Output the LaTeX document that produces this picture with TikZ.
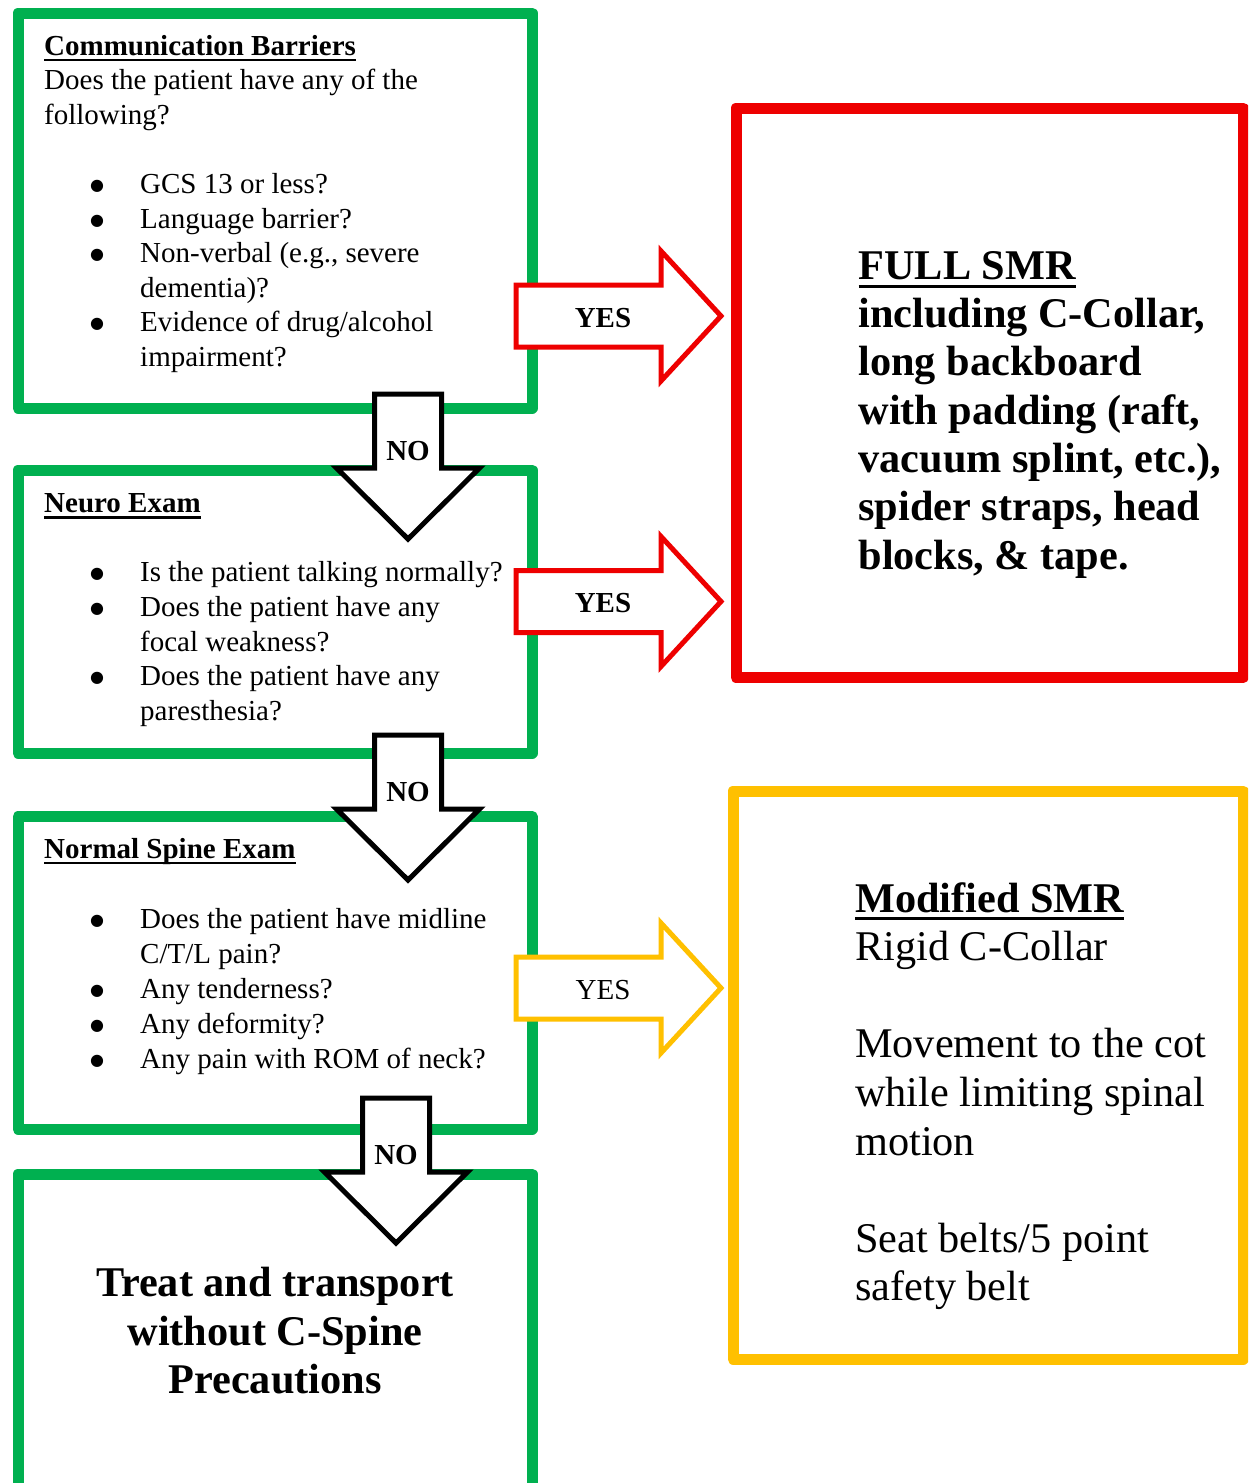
\documentclass[tikz,border=0pt]{standalone}
\usepackage{fontspec}
\setmainfont{Liberation Serif}
\newfontfamily\dvs{DejaVu Sans}
\definecolor{ggreen}{RGB}{0,176,80}
\definecolor{rred}{RGB}{238,0,0}
\definecolor{yyel}{RGB}{255,192,0}
\newcommand\ulhead[1]{\setbox0\hbox{#1}\rlap{\rule[-0.2em]{\wd0}{0.075em}}\box0}
\newcommand\bul{\hspace*{53pt}\makebox[0pt]{\raisebox{3pt}{\dvs\fontsize{16}{16}\selectfont ●}}\hspace*{43pt}}
\newcommand\cont{\hspace*{96pt}}
\newcommand\downblock[3]{% #1 name, #2 center x, #3 top y
  \draw[blk] ({#2-33.5},{#3}) -- ({#2+33.5},{#3}) -- ({#2+33.5},{#3+74}) -- ({#2+71.5},{#3+74})
     -- ({#2},{#3+145}) -- ({#2-71.5},{#3+74}) -- ({#2-33.5},{#3+74}) -- cycle;
  \node[lbl, anchor=base] (#1) at ({#2},{#3+66}) {\textbf{NO}};}
\newcommand\rightblock[5]{% #1 name, #2 left x, #3 center y, #4 colour, #5 label
  \draw[blk, draw=#4] ({#2},{#3-31}) -- ({#2+145},{#3-31}) -- ({#2+145},{#3-65}) -- ({#2+205},{#3})
     -- ({#2+145},{#3+65}) -- ({#2+145},{#3+31}) -- ({#2},{#3+31}) -- cycle;
  \node[lbl, anchor=base] (#1) at (603,{#3+11}) {#5};}
\begin{document}
\begin{tikzpicture}[x=1pt,y=-1pt,
  boxg/.style={draw=ggreen, line width=11pt, line join=round, inner sep=0pt, outer sep=0pt, anchor=north west},
  boxr/.style={boxg, draw=rred},
  boxy/.style={boxg, draw=yyel},
  blk/.style={draw=black, fill=white, line width=5pt, line join=miter},
  lbl/.style={inner sep=0pt, font=\fontsize{29}{34.6}\selectfont},
  txt/.style={inner sep=0pt, anchor=base west}]
\useasboundingbox (0,0) rectangle (1248,1483);
\clip (0,0) rectangle (1248,1483);
\fill[white] (0,0) rectangle (1248,1483);

% boxes
\node[boxg, minimum width=514pt, minimum height=395pt] (comm) at (18,13) {};
\node[boxg, minimum width=514pt, minimum height=283pt] (neuro) at (18,470) {};
\node[boxg, minimum width=514pt, minimum height=312.5pt] (spine) at (18,816.5) {};
\node[boxg, minimum width=514pt, minimum height=330pt] (treat) at (18,1174) {};
\node[boxr, minimum width=507pt, minimum height=569.5pt] (full) at (736,108) {};
\node[boxy, minimum width=510pt, minimum height=568pt] (modif) at (733,791) {};

% block arrows
\downblock{no1}{408}{394}
\downblock{no2}{408}{735}
\downblock{no3}{396}{1098}
\rightblock{yes1}{516}{316}{rred}{\textbf{YES}}
\rightblock{yes2}{516}{601.5}{rred}{\textbf{YES}}
\rightblock{yes3}{516}{988}{yyel}{YES}

% texts
\node[txt] (commtxt) at (44,55) {\fontsize{29}{34.6}\selectfont
\begin{tabular}[t]{@{}l@{}}
\textbf{\ulhead{Communication Barriers}}\\
Does the patient have any of the\\
following?\\
\\
\bul GCS 13 or less?\\
\bul Language barrier?\\
\bul Non-verbal (e.g., severe\\
\cont dementia)?\\
\bul Evidence of drug/alcohol\\
\cont impairment?
\end{tabular}};

\node[txt] (neurotxt) at (44,512.7) {\fontsize{29}{34.6}\selectfont
\begin{tabular}[t]{@{}l@{}}
\textbf{\ulhead{Neuro Exam}}\\
\\
\bul Is the patient talking normally?\\
\bul Does the patient have any\\
\cont focal weakness?\\
\bul Does the patient have any\\
\cont paresthesia?
\end{tabular}};

\node[txt] (spinetxt) at (44,858.3) {\fontsize{29}{35}\selectfont
\begin{tabular}[t]{@{}l@{}}
\textbf{\ulhead{Normal Spine Exam}}\\
\\
\bul Does the patient have midline\\
\cont C/T/L pain?\\
\bul Any tenderness?\\
\bul Any deformity?\\
\bul Any pain with ROM of neck?
\end{tabular}};

\node[txt] (fulltxt) at (858.3,279.3) {\fontsize{42.3}{48.3}\selectfont\bfseries
\begin{tabular}[t]{@{}l@{}}
\ulhead{FULL SMR}\\
including C-Collar,\\
long backboard\\
with padding (raft,\\
vacuum splint, etc.),\\
spider straps, head\\
blocks, \& tape.
\end{tabular}};

\node[txt] (modiftxt) at (855,912) {\fontsize{42.3}{48.6}\selectfont
\begin{tabular}[t]{@{}l@{}}
\textbf{\ulhead{Modified SMR}}\\
Rigid C-Collar\\
\\
Movement to the cot\\
while limiting spinal\\
motion\\
\\
Seat belts/5 point\\
safety belt
\end{tabular}};

\node[inner sep=0pt, anchor=base] (treattxt) at (275,1296.7) {\fontsize{42.3}{48.3}\selectfont\bfseries
\begin{tabular}[t]{@{}c@{}}
Treat and transport\\
without C-Spine\\
Precautions
\end{tabular}};
\end{tikzpicture}
\end{document}
